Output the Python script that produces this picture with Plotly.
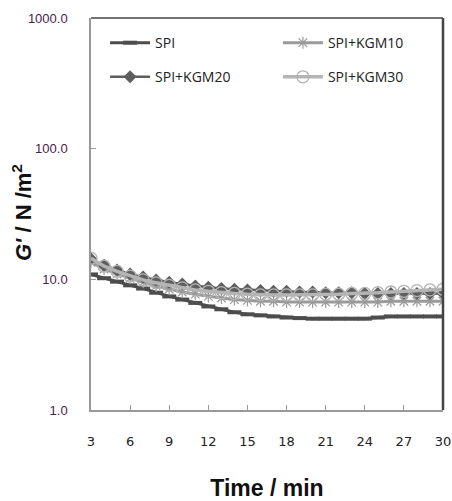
import plotly.graph_objects as go

time_min = list(range(3, 31))
spi = [10.9, 10.2, 9.6, 9.0, 8.5, 7.9, 7.4, 7.0, 6.6, 6.2, 5.9, 5.6, 5.4, 5.3, 5.2, 5.1, 5.05, 5.0,
       5.0, 5.0, 5.0, 5.0, 5.1, 5.2, 5.2, 5.2, 5.2, 5.2]
kgm10 = [13.5, 12.0, 11.0, 10.2, 9.5, 8.9, 8.4, 8.0, 7.7, 7.4, 7.2, 7.0, 6.9, 6.8, 6.8, 6.7, 6.7, 6.7,
         6.7, 6.7, 6.7, 6.7, 6.7, 6.8, 6.8, 6.8, 6.8, 6.8]
kgm20 = [14.3, 12.8, 11.8, 11.0, 10.4, 9.9, 9.5, 9.2, 8.9, 8.7, 8.5, 8.4, 8.3, 8.2, 8.1, 8.1, 8.0, 8.0,
         7.9, 7.9, 7.9, 7.8, 7.8, 7.8, 7.8, 7.8, 7.8, 7.8]
kgm30 = [14.5, 12.6, 11.5, 10.6, 9.9, 9.4, 9.0, 8.6, 8.3, 8.1, 7.9, 7.8, 7.7, 7.6, 7.6, 7.6, 7.6, 7.6,
         7.7, 7.7, 7.8, 7.8, 7.9, 8.0, 8.1, 8.2, 8.3, 8.4]
x_ticks = [3, 6, 9, 12, 15, 18, 21, 24, 27, 30]
y_ticks = [1, 10, 100, 1000]
y_ticktext = ["1.0", "10.0", "100.0", "1000.0"]

fig = go.Figure()
fig.add_trace(go.Scatter(x=time_min, y=spi, name="SPI", mode="lines+markers", legend="legend",
                         line=dict(color="#4d4d4d", width=3),
                         marker=dict(symbol="line-ew", size=10, line=dict(color="#4d4d4d", width=4))))
fig.add_trace(go.Scatter(x=time_min, y=kgm10, name="SPI+KGM10", mode="lines+markers", legend="legend2",
                         line=dict(color="#9a9a9a", width=3),
                         marker=dict(symbol="asterisk-open", size=10, line=dict(color="#9a9a9a", width=1.2))))
fig.add_trace(go.Scatter(x=time_min, y=kgm20, name="SPI+KGM20", mode="lines+markers", legend="legend3",
                         line=dict(color="#5e5e5e", width=2.5),
                         marker=dict(symbol="diamond", size=10, color="#5e5e5e")))
fig.add_trace(go.Scatter(x=time_min, y=kgm30, name="SPI+KGM30", mode="lines+markers", legend="legend4",
                         line=dict(color="#b4b4b4", width=3.5),
                         marker=dict(symbol="circle-open", size=12, line=dict(color="#a8a8a8", width=1.3))))

legend_common = dict(orientation="h", xanchor="left", yanchor="middle",
                     bgcolor="rgba(0,0,0,0)", itemwidth=40,
                     font=dict(family="Open Sans", size=14, color="#222"))

fig.update_layout(
    width=452, height=501,
    margin=dict(l=91, r=9, t=18, b=91),
    paper_bgcolor="white", plot_bgcolor="white",
    font=dict(family="Arial", color="#222"),
    showlegend=True,
    legend=dict(x=0.04, y=0.936, **legend_common),
    legend2=dict(x=0.531, y=0.936, **legend_common),
    legend3=dict(x=0.04, y=0.849, **legend_common),
    legend4=dict(x=0.531, y=0.849, **legend_common),
    xaxis=dict(range=[3, 30], tickvals=x_ticks, ticks="inside", ticklen=5, tickcolor="#999", automargin=False,
               showline=True, linecolor="#999", linewidth=1.5, mirror=False, showgrid=False, zeroline=False,
               tickfont=dict(family="DejaVu Sans", size=13, color="#222"), ticklabelstandoff=19,
               title=dict(text="<b>Time / min</b>", font=dict(family="Arial", size=23, color="#111"), standoff=32)),
    yaxis=dict(type="log", range=[0, 3], tickvals=y_ticks, ticktext=y_ticktext, ticks="inside", ticklen=5,
               tickcolor="#999", showline=True, linecolor="#999", linewidth=1.5, showgrid=False, zeroline=False,
               automargin=False,
               tickfont=dict(family="Arial", size=13, color="#4a2050"), ticklabelstandoff=19),
    annotations=[dict(text="<b><i>G'</i> / N /m<sup>2</sup></b>", xref="paper", yref="paper",
                      x=-0.196, y=0.5026, xanchor="center", yanchor="middle", textangle=-90, showarrow=False,
                      font=dict(family="Arial", size=22, color="#111"))],
)
# dark top and right frame
fig.add_shape(type="line", xref="paper", yref="paper", x0=0, x1=1, y0=1, y1=1, line=dict(color="#444", width=1.5))
fig.add_shape(type="line", xref="paper", yref="paper", x0=1, x1=1, y0=0, y1=1, line=dict(color="#444", width=2.5))

fig.write_html("out.html")
